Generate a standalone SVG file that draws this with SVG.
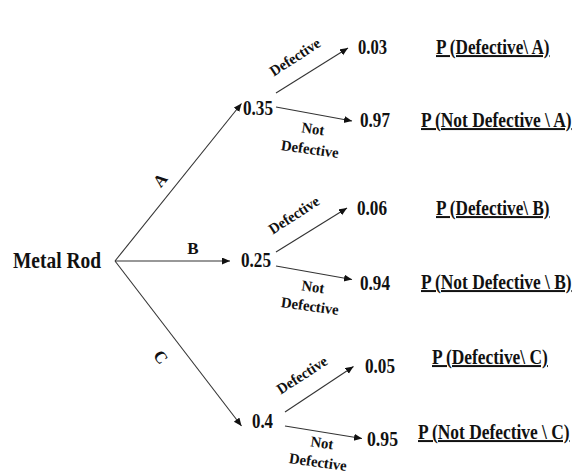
<svg xmlns="http://www.w3.org/2000/svg" width="578" height="475" viewBox="0 0 578 475">
<style>
text{font-family:"Liberation Serif","Times New Roman",serif;font-weight:bold;fill:#111}
.main{font-size:23px}
.num{font-size:21px}
.prob{font-size:20px;text-decoration:underline}
.br{font-size:15px;text-anchor:middle}
.lab{font-size:17px;text-anchor:middle}
.conn path{stroke:#333;stroke-width:1.1;fill:none;marker-end:url(#ah)}
</style>
<defs>
<marker id="ah" markerUnits="userSpaceOnUse" markerWidth="9" markerHeight="8" refX="8" refY="3.5" orient="auto">
<path d="M0,0 L8,3.5 L0,7 Z" fill="#111"/>
</marker>
</defs>
<rect width="578" height="475" fill="#fff"/>
<g class="conn" id="connectors">
<path d="M115,261 L241.5,103.5"/>
<path d="M115,261 L230,261"/>
<path d="M115,261 L241.5,426"/>
<path d="M276,93 L348,48"/>
<path d="M276,107 L352,121"/>
<path d="M276,252 L347,208"/>
<path d="M276,266 L352,279.5"/>
<path d="M285,412 L353.5,366.5"/>
<path d="M285,426 L362,438.5"/>
</g>
<g id="edge-labels">
<text class="lab" transform="translate(160,180) rotate(-51)" y="6">A</text>
<text class="lab" x="193" y="254">B</text>
<text class="lab" transform="translate(161,357) rotate(52)" y="6">C</text>
<text class="br" transform="translate(295,57) rotate(-33)" y="5" textLength="57" lengthAdjust="spacingAndGlyphs">Defective</text>
<text class="br" transform="translate(313,129) rotate(8)" y="5" textLength="23" lengthAdjust="spacingAndGlyphs">Not</text>
<text class="br" transform="translate(310,149) rotate(8)" y="5" textLength="58" lengthAdjust="spacingAndGlyphs">Defective</text>
<text class="br" transform="translate(294,215) rotate(-33)" y="5" textLength="57" lengthAdjust="spacingAndGlyphs">Defective</text>
<text class="br" transform="translate(313,287) rotate(8)" y="5" textLength="23" lengthAdjust="spacingAndGlyphs">Not</text>
<text class="br" transform="translate(310,306) rotate(8)" y="5" textLength="58" lengthAdjust="spacingAndGlyphs">Defective</text>
<text class="br" transform="translate(302,375) rotate(-33)" y="5" textLength="57" lengthAdjust="spacingAndGlyphs">Defective</text>
<text class="br" transform="translate(322,443) rotate(8)" y="5" textLength="23" lengthAdjust="spacingAndGlyphs">Not</text>
<text class="br" transform="translate(318,462) rotate(8)" y="5" textLength="58" lengthAdjust="spacingAndGlyphs">Defective</text>
</g>
<g id="metal-rod"><text class="main" x="13" y="268" textLength="88" lengthAdjust="spacingAndGlyphs">Metal Rod</text></g>
<g id="nA"><text class="num" x="243" y="115" textLength="30" lengthAdjust="spacingAndGlyphs">0.35</text></g>
<g id="nB"><text class="num" x="241" y="267" textLength="30" lengthAdjust="spacingAndGlyphs">0.25</text></g>
<g id="nC"><text class="num" x="252" y="428" textLength="21" lengthAdjust="spacingAndGlyphs">0.4</text></g>
<g id="nAD"><text class="num" x="358" y="54" textLength="29" lengthAdjust="spacingAndGlyphs">0.03</text></g>
<g id="nAN"><text class="num" x="360" y="127" textLength="30" lengthAdjust="spacingAndGlyphs">0.97</text></g>
<g id="nBD"><text class="num" x="357" y="215" textLength="30" lengthAdjust="spacingAndGlyphs">0.06</text></g>
<g id="nBN"><text class="num" x="360" y="290" textLength="30" lengthAdjust="spacingAndGlyphs">0.94</text></g>
<g id="nCD"><text class="num" x="365" y="373" textLength="30" lengthAdjust="spacingAndGlyphs">0.05</text></g>
<g id="nCN"><text class="num" x="367" y="446" textLength="31" lengthAdjust="spacingAndGlyphs">0.95</text></g>
<g id="pAD"><text class="prob" transform="translate(436,54) scale(0.86,1)">P (Defective\ A)</text></g>
<g id="pAN"><text class="prob" transform="translate(421,127) scale(0.87,1)">P (Not Defective \ A)</text></g>
<g id="pBD"><text class="prob" transform="translate(436,215) scale(0.86,1)">P (Defective\ B)</text></g>
<g id="pBN"><text class="prob" transform="translate(421,289) scale(0.87,1)">P (Not Defective \ B)</text></g>
<g id="pCD"><text class="prob" transform="translate(432,364) scale(0.87,1)">P (Defective\ C)</text></g>
<g id="pCN"><text class="prob" transform="translate(418,439) scale(0.87,1)">P (Not Defective \ C)</text></g>
</svg>
